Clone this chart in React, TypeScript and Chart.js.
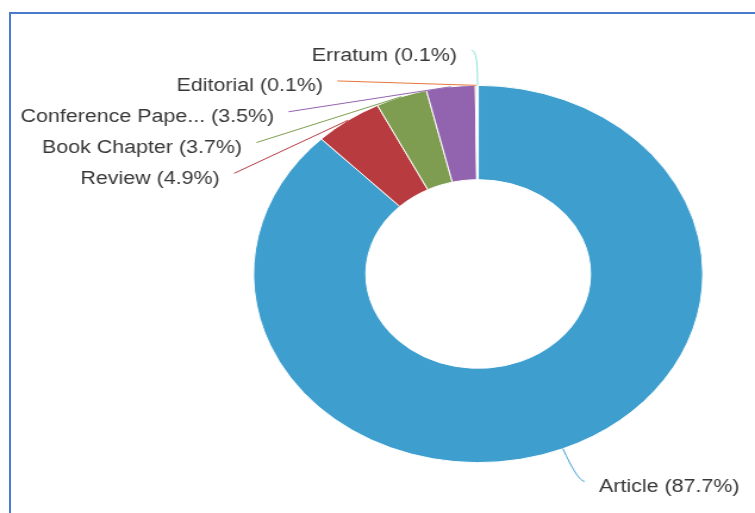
import React, { useEffect, useRef } from 'react';
import { Chart, registerables } from 'chart.js';

Chart.register(...registerables);

// ---- data ----
const categories: string[] = ['Article', 'Review', 'Book Chapter', 'Conference Paper', 'Editorial', 'Erratum'];
const shares: number[] = [87.7, 4.9, 3.7, 3.5, 0.1, 0.1];
const sliceColors: string[] = ['#3e9fcf', '#b83b3f', '#7e9d50', '#9263ae', '#e5773c', '#86e3d6'];

// ---- layout / style ----
const PAGE_W = 755;
const PAGE_H = 513;
const STRETCH = 1.19; // the reference is stretched horizontally
const INNER_W = Math.round(PAGE_W / STRETCH);
const LABEL_DISTANCE = 35.2;
const LABEL_PADDING = 5;
const LABEL_SPACING = 30.8;
const TEXT_GAP = 12;
const TEXT_DY = 5.5;
const MAX_LABEL_CHARS = 15;
const FONT = '18px "Liberation Sans", Arial, sans-serif';
const TEXT_COLOR = '#383838';

function labelText(name: string, value: number, total: number): string {
  const short = name.length > MAX_LABEL_CHARS ? name.slice(0, MAX_LABEL_CHARS) + '...' : name;
  return `${short} (${((value / total) * 100).toFixed(1)}%)`;
}

const outerLabels = {
  id: 'outerLabels',
  afterDatasetsDraw(chart: any) {
    const meta = chart.getDatasetMeta(0);
    const arcs = meta.data as any[];
    if (!arcs.length) return;
    const ctx: CanvasRenderingContext2D = chart.ctx;
    const data = chart.data.datasets[0].data as number[];
    const colors = chart.data.datasets[0].backgroundColor as string[];
    const labels = chart.data.labels as string[];
    const total = data.reduce((a, b) => a + b, 0);
    const p0 = arcs[0].getProps(['x', 'y', 'outerRadius'], true);
    const cx = p0.x, cy = p0.y, R = p0.outerRadius;
    const LR = R + LABEL_DISTANCE;

    const items = arcs.map((arc, i) => {
      const { startAngle, endAngle } = arc.getProps(['startAngle', 'endAngle'], true);
      const mid = (startAngle + endAngle) / 2;
      const natural = cy + LR * Math.sin(mid);
      return { i, mid, left: Math.cos(mid) < 0, y: natural, natural };
    });

    const stack = (list: any[]) => {
      let prev = -Infinity;
      list.sort((a, b) => a.y - b.y).forEach((it) => {
        it.y = Math.max(it.y, prev + LABEL_SPACING);
        prev = it.y;
      });
    };
    stack(items.filter((it) => it.left));
    stack(items.filter((it) => !it.left));

    ctx.save();
    items.forEach((it) => {
      const dy = Math.max(-LR, Math.min(LR, it.y - cy));
      const dx = Math.sqrt(Math.max(0, LR * LR - dy * dy)) + LABEL_PADDING;
      const sign = it.left ? -1 : 1;
      const lx = cx + sign * dx;
      const ly = it.y;
      const cos = Math.cos(it.mid), sin = Math.sin(it.mid);
      const tx = cx + R * cos, ty = cy + R * sin;
      const bx = cx + (R + 7) * cos, by = cy + (R + 7) * sin;

      ctx.beginPath();
      ctx.strokeStyle = colors[it.i];
      ctx.lineWidth = 1;
      ctx.moveTo(lx, ly);
      if (Math.abs(it.y - it.natural) < 1) {
        ctx.bezierCurveTo(lx + (it.left ? 5 : -5), ly, 2 * bx - tx, 2 * by - ty, bx, by);
        ctx.lineTo(tx, ty);
      } else {
        ctx.lineTo(tx, ty);
      }
      ctx.stroke();

      ctx.font = FONT;
      ctx.fillStyle = TEXT_COLOR;
      ctx.textBaseline = 'middle';
      ctx.textAlign = it.left ? 'right' : 'left';
      ctx.fillText(labelText(labels[it.i], data[it.i], total), lx + sign * TEXT_GAP, ly + TEXT_DY);
    });
    ctx.restore();
  },
};

export default function App() {
  const canvasRef = useRef<HTMLCanvasElement | null>(null);

  useEffect(() => {
    const canvas = canvasRef.current;
    if (!canvas) return;
    const chart = new Chart(canvas, {
      type: 'doughnut',
      data: {
        labels: categories,
        datasets: [
          {
            data: shares,
            backgroundColor: sliceColors,
            borderColor: '#ffffff',
            borderWidth: 1,
          },
        ],
      },
      options: {
        responsive: false,
        animation: false,
        cutout: '50%',
        layout: { padding: { left: 212.4, top: 84.7, right: INNER_W - 590.7, bottom: 49.7 } },
        plugins: {
          legend: { display: false },
          tooltip: { enabled: false },
        },
      },
      plugins: [outerLabels],
    });
    return () => chart.destroy();
  }, []);

  return (
    <div style={{ position: 'absolute', left: 0, top: 0, width: PAGE_W, height: PAGE_H, overflow: 'hidden', background: '#ffffff' }}>
      <div
        style={{
          position: 'absolute',
          left: 9,
          top: 12,
          width: PAGE_W + 20,
          height: PAGE_H + 20,
          borderLeft: '2px solid #4a7bcd',
          borderTop: '2px solid #4a7bcd',
          boxSizing: 'border-box',
        }}
      />
      <canvas
        ref={canvasRef}
        width={INNER_W}
        height={PAGE_H}
        style={{ position: 'absolute', left: 0, top: 0, width: PAGE_W, height: PAGE_H, display: 'block' }}
      />
    </div>
  );
}
